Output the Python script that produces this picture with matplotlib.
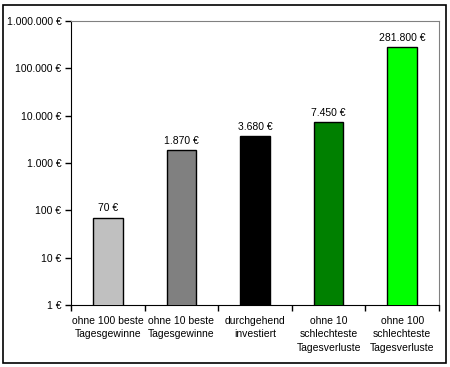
import matplotlib
matplotlib.use("Agg")
import matplotlib.pyplot as plt
from matplotlib.patches import Rectangle
from matplotlib.ticker import FixedLocator, NullLocator

categories = ["ohne 100 beste\nTagesgewinne", "ohne 10 beste\nTagesgewinne",
              "durchgehend\ninvestiert", "ohne 10\nschlechteste\nTagesverluste",
              "ohne 100\nschlechteste\nTagesverluste"]
values = [70, 1870, 3680, 7450, 281800]
value_labels = ["70 €", "1.870 €", "3.680 €", "7.450 €", "281.800 €"]
colors = ["#C0C0C0", "#808080", "#000000", "#008000", "#00FF00"]
ytick_vals = [1, 10, 100, 1000, 10000, 100000, 1000000]
ytick_labels = ["1 €", "10 €", "100 €", "1.000 €", "10.000 €", "100.000 €", "1.000.000 €"]

plt.rcParams['font.family'] = ['Liberation Sans', 'DejaVu Sans']
fig = plt.figure(figsize=(4.5, 3.67), dpi=100)
W, H = 450, 367
fig.patches.append(Rectangle((3/W, 1 - 362.5/H), 443/W, 357.5/H, transform=fig.transFigure,
                             fill=False, edgecolor="black", linewidth=1.2))
ax = fig.add_axes([71/W, 1 - 305/H, 368/W, 284/H])
x = list(range(len(values)))
ax.bar(x, values, width=0.4, color=colors, edgecolor="black", linewidth=1.0, zorder=3)
ax.set_yscale("log")
ax.set_ylim(1, 1e6)
ax.set_xlim(-0.5, len(values) - 0.5)
ax.yaxis.set_major_locator(FixedLocator(ytick_vals))
ax.set_yticklabels(ytick_labels)
ax.yaxis.set_minor_locator(NullLocator())
ax.set_xticks([i - 0.5 for i in range(len(values) + 1)])
ax.set_xticklabels([])
ax.set_xticks(x, minor=True)
ax.set_xticklabels(categories, minor=True, fontsize=7.5, linespacing=1.4)
ax.tick_params(axis="x", which="minor", length=0, pad=8)
ax.tick_params(axis="x", which="major", length=4, width=1, direction="out")
ax.tick_params(axis="y", length=4, width=1, direction="out", labelsize=7.5, pad=3)
for s in ["top", "right"]:
    ax.spines[s].set_color("#808080")
for s in ["left", "bottom"]:
    ax.spines[s].set_color("black")
for i, (v, lab) in enumerate(zip(values, value_labels)):
    ax.annotate(lab, (i, v), xytext=(0, 3), textcoords="offset points",
                ha="center", va="bottom", fontsize=7.5)
fig.savefig("out.png", dpi=100)
